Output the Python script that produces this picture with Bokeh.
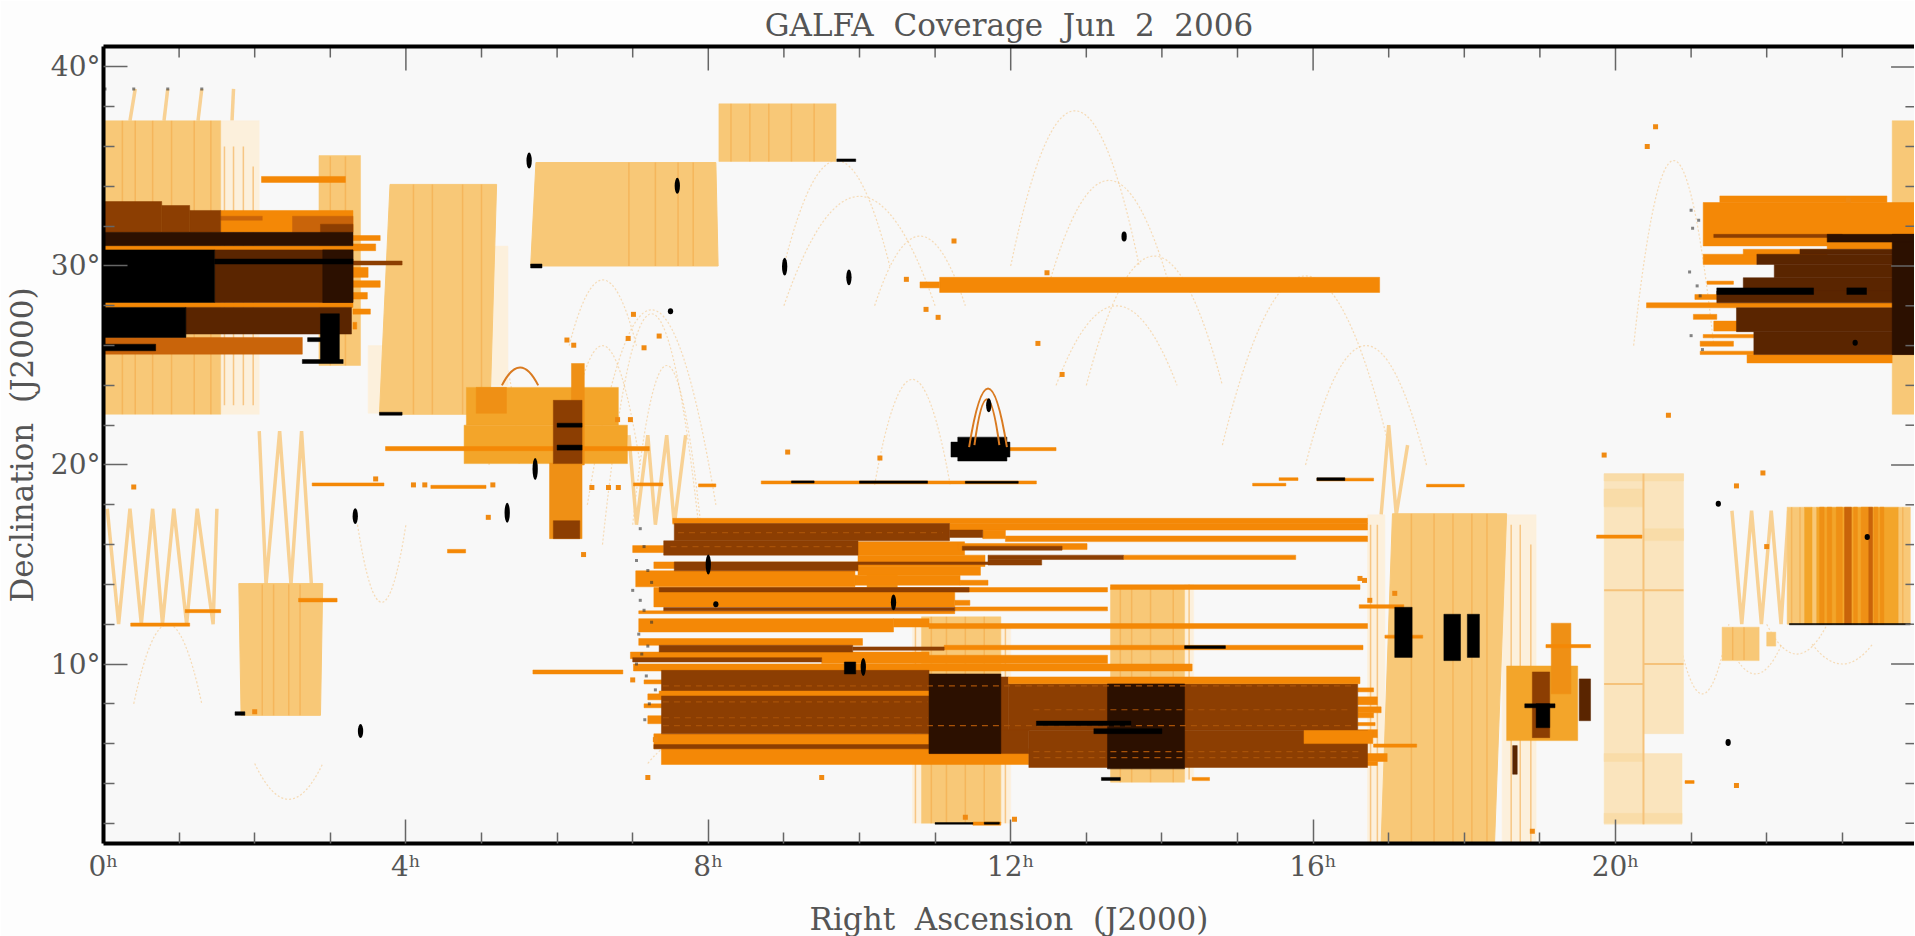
from bokeh.plotting import figure
from bokeh.models import Range1d, FixedTicker, LinearAxis
from bokeh.embed import file_html
from bokeh.resources import INLINE

# ---------- axis labels ----------
NB = "\u00a0\u00a0"
TITLE = f"GALFA{NB}Coverage{NB}Jun{NB}2{NB}2006"
XLABEL = f"Right{NB}Ascension{NB}(J2000)"
YLABEL = f"Declination{NB}(J2000)"
ra_major = [0, 4, 8, 12, 16, 20]
ra_minor = [1, 2, 3, 5, 6, 7, 9, 10, 11, 13, 14, 15, 17, 18, 19, 21, 22, 23]
dec_major = [10, 20, 30, 40]
dec_minor = [2, 4, 6, 8, 12, 14, 16, 18, 22, 24, 26, 28, 32, 34, 36, 38]

# ---------- colour layers: (ra0, ra1, dec0, dec1), hours and degrees ----------
pale_cov = [(19.85, 20.37, 1.95, 19.56), (20.37, 20.9, 6.5, 19.56), (20.37, 20.88, 1.95, 5.5)]
pale_wash = [(19.85, 20.9, 19.2, 19.56), (19.85, 20.37, 2.0, 2.5), (20.37, 20.88, 2.0, 2.5),
             (19.85, 20.37, 17.9, 18.8), (20.37, 20.9, 16.2, 16.8), (19.85, 20.37, 5.1, 5.5)]
faint_cov = [(1.55, 2.06, 22.55, 37.3), (16.72, 16.95, 1.0, 17.5), (18.5, 18.95, 1.0, 17.5),
             (3.5, 3.8, 22.6, 26.0), (5.1, 5.35, 24, 31), (10.7, 10.82, 2, 12), (11.87, 12.0, 2, 12),
             (14.3, 14.42, 4.2, 14)]
tan_cov = [(0, 1.55, 22.55, 37.3), (2.85, 3.4, 25, 35.55), (10.82, 11.87, 2.0, 12.37),
           (13.32, 14.3, 4.06, 13.87), (8.14, 9.69, 35.25, 38.15), (21.41, 21.9, 10.17, 11.85),
           (22.0, 22.12, 10.9, 11.6), (23.66, 24.0, 22.55, 37.3), (22.27, 22.5, 12, 17.88),
           (22.6, 22.66, 12, 17.88), (23.74, 23.9, 12, 17.88)]
tan_slant = [
    ([3.79, 5.2, 5.11, 3.65], [34.1, 34.1, 22.55, 22.55]),
    ([5.72, 8.1, 8.13, 5.65], [35.2, 35.2, 30.0, 30.0]),
    ([1.79, 2.9, 2.87, 1.82], [14.04, 14.04, 7.42, 7.42]),
    ([17.05, 18.56, 18.4, 16.9], [17.55, 17.55, 1.0, 1.0]),
]
mid_cov = [(4.8, 6.81, 22.0, 23.9), (4.77, 6.93, 20.07, 22.0), (18.56, 19.5, 6.15, 9.9),
           (22.5, 22.6, 12, 17.88), (22.66, 23.74, 12, 17.88)]
deep_mid = [(4.93, 5.33, 22.6, 23.9), (5.9, 6.33, 16.3, 20.1), (6.19, 6.36, 20.0, 25.1),
            (19.15, 19.41, 8.5, 12.05), (10.1, 10.5, 12.9, 14.5), (22.7, 22.76, 12, 17.88),
            (22.8, 22.86, 12, 17.88), (22.92, 23.0, 12, 17.88), (23.15, 23.2, 12, 17.88),
            (23.25, 23.35, 12, 17.88), (23.42, 23.47, 12, 17.88), (23.5, 23.55, 12, 17.88)]
orange_cov = [
    (7.53, 16.72, 17.06, 17.32), (11.19, 16.72, 16.73, 17.06), (11.63, 11.93, 16.3, 16.73),
    (11.93, 16.72, 16.15, 16.43), (9.98, 11.39, 15.47, 16.14), (11.3, 13.01, 15.75, 16.05),
    (7.0, 7.41, 15.6, 15.95), (7.28, 9.98, 14.8, 15.13), (9.98, 11.66, 14.9, 15.47),
    (13.49, 15.77, 15.25, 15.47), (9.98, 11.6, 14.46, 14.9), (9.94, 11.33, 13.96, 14.46),
    (7.04, 9.94, 13.88, 14.68), (11.33, 11.7, 13.96, 14.21), (7.28, 11.26, 12.87, 13.84),
    (11.26, 13.28, 13.62, 13.84), (11.26, 11.46, 12.95, 13.2), (11.26, 13.28, 12.67, 12.87),
    (7.08, 11.26, 12.53, 12.67), (7.08, 10.45, 11.61, 12.28), (10.45, 10.92, 11.86, 12.28),
    (10.92, 16.72, 11.78, 12.03), (7.08, 10.04, 10.94, 11.28), (11.12, 16.66, 10.72, 10.94),
    (6.97, 10.92, 10.27, 10.6), (9.5, 13.28, 10.02, 10.44), (7.01, 14.4, 9.65, 10.0),
    (7.28, 10.92, 5.74, 6.49), (7.38, 12.24, 4.95, 5.74), (13.32, 16.62, 13.75, 13.98),
    (16.59, 16.8, 8.6, 8.8), (16.59, 16.85, 7.95, 8.35), (16.59, 16.9, 7.55, 7.85),
    (16.59, 16.8, 7.3, 7.55), (16.59, 16.82, 6.9, 7.06), (16.59, 16.85, 6.3, 6.7),
    (16.59, 16.98, 5.1, 5.5), (16.59, 16.85, 4.9, 5.1), (7.15, 7.4, 9.0, 9.2), (7.2, 7.4, 8.2, 8.5),
    (7.15, 7.4, 7.8, 8.0), (7.2, 7.4, 7.0, 7.4), (11.06, 16.88, 28.67, 29.43), (10.8, 11.06, 28.9, 29.2),
    (1.55, 3.3, 31.69, 32.79), (3.3, 3.66, 31.28, 31.53), (3.3, 3.6, 30.77, 31.11),
    (3.3, 3.5, 29.43, 29.93), (3.3, 3.66, 28.93, 29.26), (3.3, 3.49, 28.34, 28.67),
    (3.3, 3.53, 27.58, 27.84), (3.3, 3.35, 26.83, 27.17), (2.09, 3.2, 34.2, 34.5),
    (21.38, 23.59, 33.19, 33.52), (21.16, 24, 31.01, 33.19), (21.16, 21.87, 30.08, 30.59),
    (21.69, 22.8, 30.5, 30.84), (21.21, 21.56, 29.08, 29.24), (21.05, 21.56, 28.32, 28.57),
    (21.03, 21.34, 27.32, 27.57), (21.3, 21.78, 26.73, 27.23), (21.16, 21.83, 26.39, 26.56),
    (21.12, 21.56, 25.97, 26.22), (21.12, 21.83, 25.55, 25.72), (21.74, 23.66, 25.13, 25.55),
    (3.73, 7.22, 20.72, 20.93), (2.76, 3.71, 18.95, 19.1), (4.33, 5.06, 18.82, 18.98),
    (8.7, 12.34, 19.05, 19.2), (7.01, 7.4, 18.95, 19.1), (7.87, 8.1, 18.9, 19.05),
    (15.2, 15.64, 18.95, 19.08), (15.55, 15.8, 19.22, 19.36), (16.05, 16.8, 19.2, 19.34),
    (17.5, 18.0, 18.9, 19.03), (4.55, 4.79, 15.58, 15.76), (2.58, 3.09, 13.12, 13.3),
    (1.08, 1.55, 12.58, 12.74), (0.36, 1.14, 11.9, 12.06), (5.68, 6.87, 9.5, 9.7),
    (16.61, 17.2, 12.8, 12.98), (16.8, 17.37, 5.82, 5.98), (19.08, 19.67, 10.82, 10.98),
    (19.75, 20.35, 16.32, 16.48), (11.97, 12.6, 20.72, 20.88), (14.4, 14.63, 4.14, 4.3),
    (11.5, 11.87, 1.9, 2.06), (20.92, 21.04, 4.0, 4.14), (16.95, 17.45, 11.3, 11.45),
]
brown_cov = [
    (7.55, 11.19, 16.19, 17.06), (11.19, 11.63, 16.36, 16.73), (7.41, 9.98, 15.47, 16.19),
    (11.36, 12.68, 15.72, 15.92), (11.7, 13.49, 15.25, 15.47), (11.7, 12.41, 14.97, 15.25),
    (9.98, 11.7, 15.0, 15.13), (7.55, 9.98, 14.68, 15.13), (7.35, 11.45, 13.62, 13.84),
    (7.41, 11.26, 12.67, 12.84), (7.35, 9.91, 10.6, 10.94), (9.91, 11.12, 10.69, 10.86),
    (7.0, 9.5, 10.1, 10.32), (7.38, 10.92, 6.49, 9.68), (11.97, 16.59, 6.66, 9.01),
    (10.92, 11.97, 6.5, 9.35), (12.24, 16.72, 4.8, 6.66), (10.92, 12.24, 5.5, 6.7),
    (7.28, 10.92, 5.74, 5.95), (0, 0.77, 31.69, 33.24), (0.77, 1.14, 31.69, 33.04),
    (1.14, 1.55, 31.69, 32.79), (2.87, 3.3, 31.69, 32.1), (5.95, 6.33, 20.07, 23.25),
    (18.9, 19.13, 6.3, 9.6), (5.95, 6.3, 16.3, 17.2), (3.1, 3.95, 30.05, 30.25),
    (21.3, 23.0, 31.43, 31.59),
]
rust_cov = [(0, 2.63, 25.57, 26.41), (1.55, 2.1, 32.3, 32.5), (2.5, 3.3, 31.7, 32.5),
            (23.03, 23.12, 12, 17.88), (23.35, 23.4, 12, 17.88)]
orange_over = [(7.35, 10.92, 8.42, 8.64), (15.88, 16.79, 6.0, 6.66), (11.97, 16.62, 9.01, 9.35),
               (0, 3.36, 30.81, 31.02), (0, 3.3, 27.92, 28.17), (20.41, 24, 27.9, 28.15), (22.8, 24, 30.84, 31.01)]
umber_cov = [(1.47, 3.3, 28.17, 30.81), (1.09, 3.28, 26.58, 27.92), (22.44, 24, 30.59, 30.84),
             (21.87, 24, 30.08, 30.59), (22.1, 24, 29.41, 30.08), (21.69, 24, 28.74, 29.41),
             (21.34, 24, 28.15, 28.74), (21.6, 24, 26.7, 27.9), (21.83, 24, 25.55, 26.7),
             (19.52, 19.67, 7.15, 9.25), (18.64, 18.7, 4.46, 5.9)]
dark_cov = [(10.92, 11.87, 5.5, 9.5), (13.28, 14.3, 4.73, 9.0), (0, 3.3, 31.02, 31.69),
            (2.9, 3.3, 28.17, 30.81), (23.66, 24, 25.55, 31.59), (22.8, 24, 31.2, 31.59)]
black_cov = [
    (0, 1.47, 28.17, 30.81), (0, 1.09, 26.41, 27.92), (0, 0.69, 25.74, 26.07), (1.47, 3.3, 30.1, 30.35),
    (2.87, 3.12, 25.15, 27.6), (2.63, 3.17, 25.1, 25.3), (2.7, 2.9, 26.2, 26.4),
    (11.3, 11.95, 20.2, 21.4), (11.21, 11.99, 20.4, 21.15), (17.08, 17.31, 10.33, 12.85), (17.73, 17.95, 10.17, 12.5),
    (18.04, 18.2, 10.33, 12.5), (18.95, 19.13, 6.8, 8.0), (18.8, 19.2, 7.8, 8.0),
    (12.34, 13.59, 6.91, 7.13), (13.1, 14.0, 6.5, 6.75), (21.34, 22.62, 28.57, 28.9),
    (23.06, 23.32, 28.57, 28.9), (9.1, 9.4, 19.1, 19.2), (10.0, 10.9, 19.08, 19.2),
    (11.4, 12.1, 19.08, 19.18), (6.0, 6.33, 20.75, 21.0), (6.0, 6.33, 21.9, 22.1),
    (16.05, 16.42, 19.22, 19.36), (1.74, 1.87, 7.42, 7.6), (3.65, 3.95, 22.5, 22.65), (5.65, 5.8, 29.9, 30.1),
    (9.7, 9.95, 35.25, 35.38), (11.0, 11.5, 1.95, 2.03), (11.65, 11.85, 1.95, 2.05), (13.2, 13.45, 4.15, 4.3),
    (9.8, 9.95, 9.5, 10.1), (14.3, 14.84, 10.78, 10.92), (22.3, 23.9, 11.97, 12.03),
]
stripe_ra = [0.25, 0.42, 0.65, 0.9, 1.2, 1.42, 3.0, 3.2, 4.1, 4.35, 4.75, 5.0, 6.95, 7.3, 7.6, 7.8, 8.3, 8.55, 8.8, 9.1, 9.4,
             10.95, 11.15, 11.4, 11.65, 13.45, 13.6, 13.85, 14.15, 17.3, 17.6, 17.85, 18.1, 18.3, 2.1, 2.25, 2.45, 2.6,
             1.6, 1.72, 1.85, 1.98, 16.76, 16.85, 18.62, 18.74, 18.88, 10.74, 11.93, 14.36, 22.33, 22.44, 21.55, 21.7, 23.8]
stripe_dec0 = [22.55, 22.55, 22.55, 22.55, 22.55, 22.55, 25, 25, 22.55, 22.55, 22.55, 22.55, 30, 30, 30, 30, 35.25, 35.25, 35.25, 35.25, 35.25,
               2, 2, 2, 2, 4.06, 4.06, 4.06, 4.06, 1, 1, 1, 1, 1, 7.42, 7.42, 7.42, 7.42,
               23, 23, 23, 23, 1, 1, 1, 1, 1, 2, 2, 4.2, 12, 12, 10.2, 10.2, 12]
stripe_dec1 = [37.3, 37.3, 37.3, 37.3, 37.3, 37.3, 35.5, 35.5, 34.1, 34.1, 34.1, 34.1, 35.2, 35.2, 35.2, 35.2, 38.15, 38.15, 38.15, 38.15, 38.15,
               12.37, 12.37, 12.37, 12.37, 13.87, 13.87, 13.87, 13.87, 17.55, 17.55, 17.55, 17.55, 17.55, 14, 14, 14, 14,
               36, 36, 36, 35, 17, 17, 17, 17, 16, 12, 12, 14, 17.88, 17.88, 11.85, 11.85, 17.88]

# zig-zag scan tracks
zig_ra = [
    [0.05, 0.2, 0.35, 0.5, 0.65, 0.78, 0.93, 1.1, 1.24, 1.45, 1.5],
    [2.06, 2.15, 2.33, 2.48, 2.62, 2.75],
    [21.54, 21.67, 21.8, 21.93, 22.06, 22.19, 22.29],
    [6.95, 7.05, 7.2, 7.3, 7.45, 7.55, 7.7],
    [16.9, 17.0, 17.1, 17.25],
    [0.35, 0.42], [0.8, 0.85], [1.25, 1.3], [1.7, 1.72],
]
zig_dec = [
    [17.8, 12, 17.8, 12, 17.8, 12, 17.8, 12, 17.8, 12, 17.8],
    [21.7, 14, 21.7, 14, 21.7, 14],
    [17.7, 12, 17.7, 12, 17.7, 12, 17.7],
    [21.5, 17, 21.5, 17, 21.5, 17, 21.5],
    [17.5, 22.0, 17.5, 21.0],
    [37.3, 38.9], [37.3, 38.9], [37.3, 38.9], [37.3, 38.9],
]
# faint telescope-track arcs
arc_ra0 = [6.4, 6.6, 6.1, 7.0, 6.16, 9.0, 12.0, 12.5, 14.8, 15.9, 9.0, 10.2, 20.24, 3.36, 10.2, 20.8, 2.0, 0.4, 7.2, 21.5, 22.0, 22.6, 12.6, 13.0, 5.1]
arc_ra1 = [8.1, 7.9, 7.1, 7.9, 7.05, 10.4, 13.7, 14.1, 17.0, 17.5, 11.0, 11.2, 21.3, 4.0, 11.4, 21.5, 2.9, 1.3, 8.2, 22.2, 22.8, 23.4, 14.2, 14.8, 5.5]
arc_base = [18, 16, 20, 17, 26, 30, 30, 29, 21, 20, 28, 19, 26, 17, 28, 12, 5, 8, 5, 11, 12, 11, 24, 24, 20]
arc_top = [27.8, 27.6, 26, 25, 29.3, 35.3, 37.8, 34.3, 29.5, 26, 33.5, 24.3, 35.3, 13.1, 31.5, 8.5, 3.2, 12, 6.2, 9.5, 10.5, 10, 28, 30.5, 25]
strong_ra0 = [11.45, 11.52, 5.27]
strong_ra1 = [11.95, 11.85, 5.75]
strong_base = [20.9, 21, 24]
strong_top = [23.85, 23.3, 24.9]

# scattered single pointings
dot_ra = [6.13, 6.22, 7.01, 6.94, 7.35, 7.15, 10.62, 10.88, 11.04, 9.05, 10.27, 6.8, 6.97, 12.48, 11.25, 12.36, 12.68,
          0.4, 5.09, 6.46, 6.68, 6.81, 4.1, 4.25, 5.15, 3.6, 2.0, 16.68, 16.62, 16.75, 17.08, 19.85, 21.95, 21.6, 22.0, 20.7, 6.35, 7.0, 7.3, 7.2,
          9.5, 12.05, 11.4, 23.08, 20.42, 20.53, 21.6, 18.9]
dot_dec = [26.28, 26.02, 27.57, 26.36, 26.48, 25.89, 29.33, 27.82, 27.42, 20.65, 20.35, 22.28, 22.28, 29.66, 31.26, 26.11, 24.55,
           18.9, 17.37, 18.87, 18.87, 18.87, 19.0, 19.0, 19.0, 19.3, 7.6, 14.2, 14.3, 13.2, 13.55, 20.5, 19.6, 18.95, 15.9, 22.5, 15.5, 9.2, 6.2, 4.3,
           4.3, 2.2, 2.3, 33.3, 36.0, 37.0, 3.9, 1.6]
# small grey pointings on the survey's left edge
speck_ra = [7.1, 7.15, 7.05, 7.2, 7.25, 7.0, 7.1, 7.15, 7.25, 7.08, 7.2, 7.12, 7.05, 7.18, 7.3, 7.22, 7.16, 0.02, 0.4, 0.85, 1.3,
            21.0, 21.1, 21.02, 20.98, 21.08, 21.12, 21.0, 21.15]
speck_dec = [16.8, 15.9, 15.2, 14.7, 14.1, 13.7, 13.2, 12.7, 12.1, 11.5, 10.9, 10.5, 10.0, 9.4, 8.7, 8.0, 7.2, 38.9, 38.9, 38.9, 38.9,
             32.8, 32.3, 31.9, 29.7, 29.0, 28.5, 26.5, 25.8]
# compact black sources
src_ra = [5.63, 7.59, 9.01, 9.86, 7.5, 13.5, 5.71, 11.71, 3.33, 3.4, 5.34, 21.36, 21.49, 23.17, 23.33, 8.0, 10.05, 10.45, 8.1]
src_dec = [35.3, 34.03, 29.97, 29.43, 27.73, 31.48, 19.8, 23.0, 17.43, 6.63, 17.6, 18.05, 6.06, 26.14, 16.38, 15.0, 9.85, 13.1, 13.0]
src_h = [0.8, 0.8, 0.9, 0.8, 0.3, 0.5, 1.1, 0.7, 0.8, 0.7, 1.0, 0.3, 0.35, 0.3, 0.3, 1.0, 0.9, 0.8, 0.3]

# band texture lines inside the brown survey
tex_dec = [8.9, 8.1, 7.7, 7.3, 6.9, 5.6, 5.3, 15.9, 16.6]
tex_ra0 = [7.4, 7.4, 12.3, 7.4, 7.4, 12.3, 12.3, 7.5, 7.6]
tex_ra1 = [16.5, 10.9, 16.5, 10.9, 16.5, 16.6, 16.6, 9.9, 11.1]

COLORS = dict(pale="#fae4bd", paler="#f9dca8", faint="#fcf0dc", tan="#f8c877", mid="#f3a52a",
              deep="#ef9015", orange="#f48806", rust="#c9640a", brown="#8c3e02", umber="#5a2500",
              dark="#2c1000", black="#000000")
TEXT = "#555555"
TICK = "#666666"

p = figure(width=1907, height=928, output_backend="svg", toolbar_location=None,
           x_range=Range1d(0, 23.955), y_range=Range1d(0.98, 41.03),
           min_border_left=96, min_border_right=0, min_border_top=38, min_border_bottom=70,
           title=TITLE, background_fill_color="#f8f8f8", border_fill_color="#fdfdfd",
           outline_line_color=None)
p.frame_width = 1811
p.frame_height = 797
p.grid.visible = False
p.title.align = "center"
p.title.text_font = "DejaVu Serif"
p.title.text_font_size = "31px"
p.title.text_font_style = "normal"
p.title.text_color = TEXT
p.title.standoff = 8


def layer(rows, color):
    p.quad(left=[r[0] for r in rows], right=[r[1] for r in rows],
           bottom=[r[2] for r in rows], top=[r[3] for r in rows],
           fill_color=color, line_color=color, line_width=0.5)


def arcs(ra0, ra1, base, top, color, width, alpha, dash="solid"):
    p.quadratic(x0=ra0, y0=base, x1=ra1, y1=base,
                cx=[(a + b) / 2 for a, b in zip(ra0, ra1)],
                cy=[2 * t - b for t, b in zip(top, base)],
                line_color=color, line_width=width, line_alpha=alpha, line_dash=dash)


arcs(arc_ra0, arc_ra1, arc_base, arc_top, "#f4b765", 1.2, 0.45, "2 2")
p.multi_line(zig_ra, zig_dec, line_color="#f8d194", line_width=3.5)
layer(pale_cov, COLORS["pale"])
layer(pale_wash, COLORS["paler"])
p.segment(x0=[20.37, 19.85, 19.85, 20.37], x1=[20.37, 20.9, 20.37, 20.9], y0=[1.95, 13.7, 9, 10], y1=[19.56, 13.7, 9, 10],
          line_color="#f5c27a", line_width=2)
layer(faint_cov, COLORS["faint"])
layer(tan_cov, COLORS["tan"])
p.patches([s[0] for s in tan_slant], [s[1] for s in tan_slant], fill_color=COLORS["tan"], line_color=COLORS["tan"])
p.segment(x0=stripe_ra, x1=stripe_ra, y0=stripe_dec0, y1=stripe_dec1, line_color="#f3aa4a", line_width=1.5, line_alpha=0.6)
layer(mid_cov, COLORS["mid"])
layer(deep_mid, COLORS["deep"])
layer(orange_cov, COLORS["orange"])
layer(rust_cov, COLORS["rust"])
layer(brown_cov, COLORS["brown"])
layer(orange_over, COLORS["orange"])
layer(umber_cov, COLORS["umber"])
layer(dark_cov, COLORS["dark"])
p.segment(x0=tex_ra0, x1=tex_ra1, y0=tex_dec, y1=tex_dec, line_color="#a85208", line_width=1.2, line_dash="6 5")
layer(black_cov, COLORS["black"])
arcs(strong_ra0, strong_ra1, strong_base, strong_top, "#d97a20", 2, 1)
p.scatter(dot_ra, dot_dec, size=5, marker="square", fill_color="#f08a12", line_color=None)
p.scatter(speck_ra, speck_dec, size=3, marker="square", fill_color="#333333", line_color=None, fill_alpha=0.6)
p.ellipse(src_ra, src_dec, width=0.07, height=src_h, fill_color="black", line_color=None)

# axes
for ax, major, minor, overrides, title in [
    (p.xaxis[0], ra_major, ra_minor, {v: f"{v}ʰ" for v in ra_major}, XLABEL),
    (p.yaxis[0], dec_major, dec_minor, {v: f"{v}°" for v in dec_major}, YLABEL),
]:
    ax.ticker = FixedTicker(ticks=major, minor_ticks=minor)
    ax.major_label_overrides = overrides
    ax.major_label_text_font = "DejaVu Serif"
    ax.major_label_text_font_size = "28px"
    ax.major_label_text_color = TEXT
    ax.major_label_standoff = 6
    ax.axis_label = title
    ax.axis_label_text_font = "DejaVu Serif"
    ax.axis_label_text_font_size = "31px"
    ax.axis_label_text_font_style = "normal"
    ax.axis_label_text_color = TEXT
    ax.axis_line_color = "black"
    ax.axis_line_width = 4
    ax.major_tick_in = 24
    ax.major_tick_out = 0
    ax.minor_tick_in = 11
    ax.minor_tick_out = 0
    ax.major_tick_line_color = TICK
    ax.minor_tick_line_color = TICK
    ax.major_tick_line_width = 1.5
    ax.minor_tick_line_width = 1.5
p.xaxis[0].axis_label_standoff = 15
p.yaxis[0].axis_label_standoff = 8
p.yaxis[0].major_label_standoff = 3

# heavy top edge of the frame (an axis with no ticks, so no text)
p.add_layout(LinearAxis(ticker=FixedTicker(ticks=[]), axis_line_color="black", axis_line_width=4,
                        major_tick_line_color=None, minor_tick_line_color=None), "above")

# ticks mirrored on the top and right edges of the frame
top_edge, right_edge = 41.03, 23.955
p.segment(x0=ra_major, x1=ra_major, y0=[top_edge - 1.2] * len(ra_major), y1=[top_edge] * len(ra_major),
          line_color=TICK, line_width=1.5)
p.segment(x0=ra_minor, x1=ra_minor, y0=[top_edge - 0.55] * len(ra_minor), y1=[top_edge] * len(ra_minor),
          line_color=TICK, line_width=1.5)
p.segment(x0=[right_edge - 0.31] * len(dec_major), x1=[right_edge] * len(dec_major), y0=dec_major, y1=dec_major,
          line_color=TICK, line_width=1.5)
p.segment(x0=[right_edge - 0.12] * len(dec_minor), x1=[right_edge] * len(dec_minor), y0=dec_minor, y1=dec_minor,
          line_color=TICK, line_width=1.5)

open("out.html", "w").write(file_html(p, INLINE))
